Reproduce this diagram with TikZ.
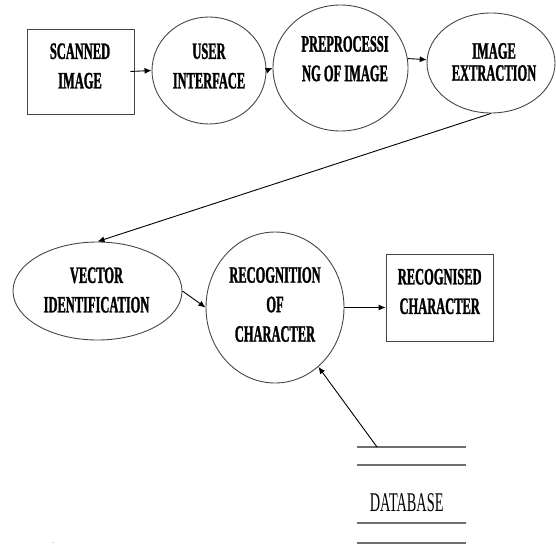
\documentclass[tikz,border=0pt]{standalone}
\usepackage{fontspec}
\setmainfont{Liberation Serif}
\newfontfamily\narrowfont[FakeStretch=0.53]{Liberation Serif}
\newfontfamily\narrowbold[FakeStretch=0.53,FakeBold=1.2]{Liberation Serif Bold}
\usetikzlibrary{shapes.geometric,arrows.meta}

\begin{document}
\begin{tikzpicture}[x=1pt,y=1pt,yscale=-1,
  shp/.style={draw={rgb,255:red,70;green,70;blue,70},line width=0.9pt,inner sep=0pt},
  oval/.style={shp,ellipse},
  box/.style={shp,rectangle},
  txt/.style={inner sep=0pt,align=center,font=\narrowbold\fontsize{23.5}{29.5}\selectfont},
  arr/.style={-{Latex[length=7pt,width=6pt]},line width=0.9pt},
  dbline/.style={draw={rgb,255:red,110;green,110;blue,110},line width=1.6pt}]
\useasboundingbox (0,0) rectangle (556,546);

%Shapes
\node [box, minimum width=107, minimum height=85] (scan) at (80.5,71.5) {};
\node [oval, minimum width=114, minimum height=107] (user) at (209,70.5) {};
\node [oval, minimum width=135, minimum height=126] (pre) at (340.5,68) {};
\node [oval, minimum width=128, minimum height=100] (ext) at (491,63) {};
\node [oval, minimum width=169, minimum height=98] (vec) at (97.5,291) {};
\node [oval, minimum width=138, minimum height=151] (rec) at (275,307.5) {};
\node [box, minimum width=107, minimum height=87] (recd) at (439.5,297.5) {};

% Text Nodes
\node [txt] (scantxt) at (80,66) {SCANNED\\IMAGE};
\node [txt] (usertxt) at (209,66) {USER\\INTERFACE};
\node [txt] (pretxt) at (345,58.7) {PREPROCESSI\\NG OF IMAGE};
\node [txt] (exttxt) at (494,62) {IMAGE\\[-7.5pt]EXTRACTION};
\node [txt] (vectxt) at (96.5,290) {VECTOR\\IDENTIFICATION};
\node [txt] (rectxt) at (275,304.5) {RECOGNITION\\OF\\CHARACTER};
\node [txt] (recdtxt) at (439.7,291.5) {RECOGNISED\\CHARACTER};
\node [inner sep=0pt, font=\narrowfont\fontsize{27}{30}\selectfont] (db) at (406.7,502.5) {DATABASE};
\node [inner sep=0pt, font=\fontsize{6}{7}\selectfont] (dot) at (53,543) {.};

%Database store
\coordinate (dbtop) at (377,447);
\draw [dbline] (357,447) -- (466,447);
\draw [dbline] (357,465) -- (466,465);
\draw [dbline] (357,523) -- (466,523);
\draw [dbline] (357,543) -- (466,543);

%Connectors
\draw [arr] (scan.east) ++(-4,0) -- (user.west);
\draw [arr] (user.east) -- (pre.west);
\draw [arr] (pre.8) -- (ext.177);
\draw [arr] (ext.south) -- (vec.north);
\draw [arr] (vec.east) -- (rec.west);
\draw [arr] (rec.east) -- (rec.east -| recd.west);
\draw [arr] (dbtop) -- (rec);

\end{tikzpicture}
\end{document}
